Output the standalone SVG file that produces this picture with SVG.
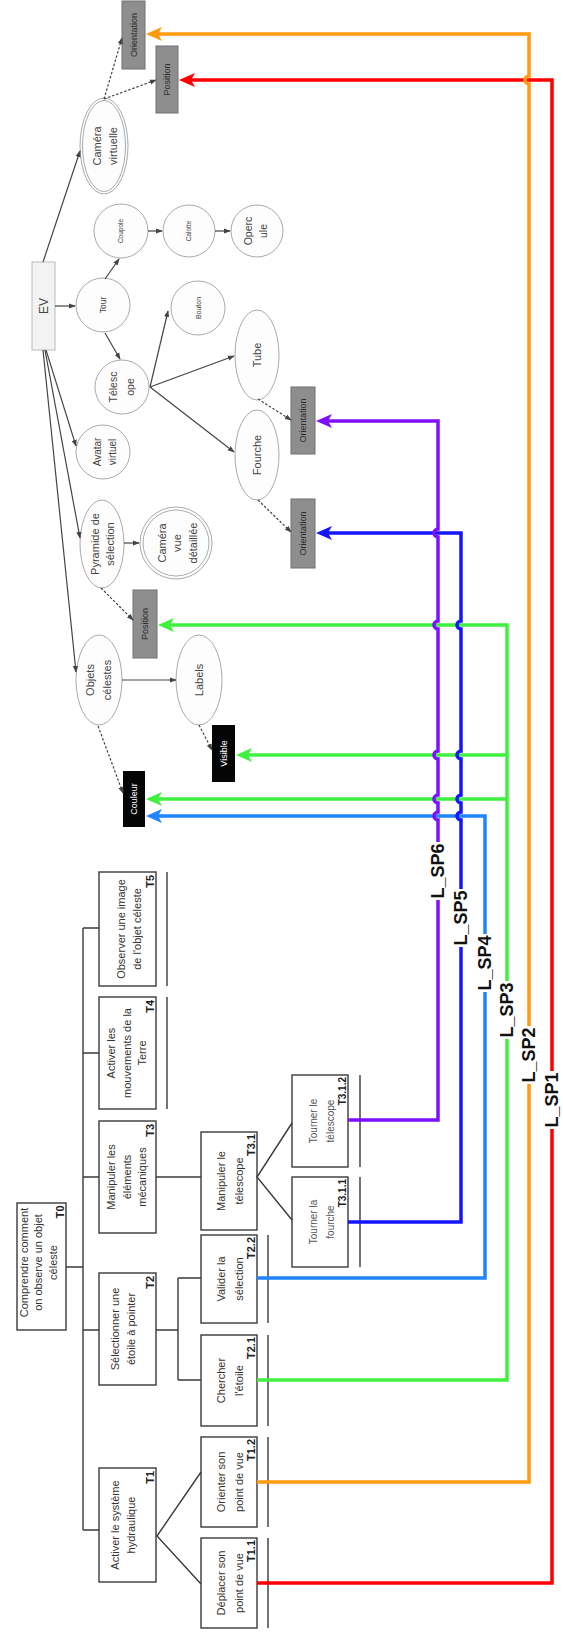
<svg xmlns="http://www.w3.org/2000/svg" width="563" height="1639" viewBox="0 0 563 1639">
<style>
.task{fill:#fff;stroke:#3a3a3a;stroke-width:1.4}
.ul{stroke:#3a3a3a;stroke-width:1.4}
.tt{font-family:"Liberation Sans",Arial,sans-serif;font-size:11px;fill:#333;text-anchor:middle}
.t3{font-size:10px;fill:#555}
.tid{font-family:"Liberation Sans",Arial,sans-serif;font-weight:bold;font-size:11px;fill:#222;text-anchor:end}
.ev{fill:#fdfdfd;stroke:#aaa;stroke-width:1}
.evb{fill:#f3f3f3;stroke:#bbb;stroke-width:1}
.evt{font-family:"Liberation Sans",Arial,sans-serif;font-size:11px;fill:#444;text-anchor:middle}
.gbox{fill:#8e8e8e;stroke:#707070;stroke-width:1}
.gt{font-family:"Liberation Sans",Arial,sans-serif;font-size:9px;fill:#2a2a2a;text-anchor:middle}
.bbox{fill:#050505}
.bt{font-family:"Liberation Sans",Arial,sans-serif;font-size:9px;fill:#fff;text-anchor:middle}
.tree{stroke:#3a3a3a;stroke-width:1.4;fill:none}
.arr{stroke:#444;stroke-width:1.2;fill:none;marker-end:url(#ah)}
.dash{stroke-dasharray:2.5 1.8}
.sp{fill:none;stroke-width:3.5;stroke-linejoin:miter}
.lbl{font-family:"Liberation Sans",Arial,sans-serif;font-weight:bold;font-size:18px;fill:#111;text-anchor:middle}
</style>
<defs>
<marker id="ah" viewBox="0 0 8 6" refX="7" refY="3" markerWidth="7" markerHeight="6" orient="auto" markerUnits="userSpaceOnUse"><path d="M0,0 L8,3 L0,6 z" fill="#444"/></marker>
<marker id="aRed" viewBox="0 0 16 14" refX="4" refY="7" markerWidth="16" markerHeight="14" orient="auto" markerUnits="userSpaceOnUse"><path d="M0,0 L16,7 L0,14 L4,7 z" fill="#ff0000"/></marker>
<marker id="aOra" viewBox="0 0 16 14" refX="4" refY="7" markerWidth="16" markerHeight="14" orient="auto" markerUnits="userSpaceOnUse"><path d="M0,0 L16,7 L0,14 L4,7 z" fill="#ff9a0a"/></marker>
<marker id="aGre" viewBox="0 0 16 14" refX="4" refY="7" markerWidth="16" markerHeight="14" orient="auto" markerUnits="userSpaceOnUse"><path d="M0,0 L16,7 L0,14 L4,7 z" fill="#3ff03f"/></marker>
<marker id="aLbl" viewBox="0 0 16 14" refX="4" refY="7" markerWidth="16" markerHeight="14" orient="auto" markerUnits="userSpaceOnUse"><path d="M0,0 L16,7 L0,14 L4,7 z" fill="#1f85ff"/></marker>
<marker id="aBlu" viewBox="0 0 16 14" refX="4" refY="7" markerWidth="16" markerHeight="14" orient="auto" markerUnits="userSpaceOnUse"><path d="M0,0 L16,7 L0,14 L4,7 z" fill="#1414ff"/></marker>
<marker id="aPur" viewBox="0 0 16 14" refX="4" refY="7" markerWidth="16" markerHeight="14" orient="auto" markerUnits="userSpaceOnUse"><path d="M0,0 L16,7 L0,14 L4,7 z" fill="#7f10ff"/></marker>
</defs>
<rect x="0" y="0" width="563" height="1639" fill="#fff"/>

<!-- ===== EV graph nodes ===== -->
<g id="EV"><rect class="evb" x="32" y="262" width="23" height="88"/><g transform="translate(43.5,306) rotate(-90)"><text class="evt" style="font-size:12px" x="0" y="4.2">EV</text></g></g>
<g id="camera-virtuelle"><ellipse class="ev" cx="104" cy="146" rx="24" ry="48"/><ellipse class="ev" cx="104" cy="146" rx="21.5" ry="45.5"/><g transform="translate(104,146) rotate(-90)"><text class="evt"><tspan x="0" y="-3">Caméra</tspan><tspan x="0" y="13">virtuelle</tspan></text></g></g>
<g id="tour"><circle class="ev" cx="103" cy="305" r="27"/><g transform="translate(103,305) rotate(-90)"><text class="evt" style="font-size:8.5px" x="0" y="3">Tour</text></g></g>
<g id="coupole"><circle class="ev" cx="121" cy="231" r="27"/><g transform="translate(121,231) rotate(-90)"><text class="evt" style="font-size:6.5px" x="0" y="2.3">Coupole</text></g></g>
<g id="calotte"><circle class="ev" cx="189" cy="231" r="26"/><g transform="translate(189,231) rotate(-90)"><text class="evt" style="font-size:6.5px" x="0" y="2.3">Calotte</text></g></g>
<g id="opercule"><circle class="ev" cx="257" cy="231" r="26"/><g transform="translate(257,231) rotate(-90)"><text class="evt" style="font-size:10.5px"><tspan x="0" y="-5.3">Operc</tspan><tspan x="0" y="9.7">ule</tspan></text></g></g>
<g id="telescope"><circle class="ev" cx="122" cy="387" r="27"/><g transform="translate(122,387) rotate(-90)"><text class="evt" style="font-size:10.5px"><tspan x="0" y="-5.2">Télesc</tspan><tspan x="0" y="11.8">ope</tspan></text></g></g>
<g id="bouton"><circle class="ev" cx="198" cy="308" r="27"/><g transform="translate(198,308) rotate(-90)"><text class="evt" style="font-size:7px" x="0" y="2.5">Bouton</text></g></g>
<g id="tube"><ellipse class="ev" cx="257" cy="355" rx="22" ry="45"/><g transform="translate(257,355) rotate(-90)"><text class="evt" x="0" y="3.9">Tube</text></g></g>
<g id="fourche"><ellipse class="ev" cx="257" cy="455" rx="22" ry="45"/><g transform="translate(257,455) rotate(-90)"><text class="evt" x="0" y="3.9">Fourche</text></g></g>
<g id="avatar-virtuel"><circle class="ev" cx="103" cy="452" r="27"/><g transform="translate(103,452) rotate(-90)"><text class="evt" style="font-size:10px"><tspan x="0" y="-2.5">Avatar</tspan><tspan x="0" y="12.5">virtuel</tspan></text></g></g>
<g id="pyramide"><ellipse class="ev" cx="102" cy="544" rx="22" ry="44"/><g transform="translate(102,544) rotate(-90)"><text class="evt"><tspan x="0" y="-3.2">Pyramide de</tspan><tspan x="0" y="11.8">sélection</tspan></text></g></g>
<g id="camera-vue-detaillee"><circle class="ev" cx="176" cy="543" r="36"/><circle class="ev" cx="176" cy="543" r="33"/><g transform="translate(176,543) rotate(-90)"><text class="evt"><tspan x="0" y="-10.5">Caméra</tspan><tspan x="0" y="5">vue</tspan><tspan x="0" y="20.5">détaillée</tspan></text></g></g>
<g id="objets-celestes"><ellipse class="ev" cx="99" cy="680" rx="23" ry="45"/><g transform="translate(99,680) rotate(-90)"><text class="evt"><tspan x="0" y="-5">Objets</tspan><tspan x="0" y="12">célestes</tspan></text></g></g>
<g id="labels"><ellipse class="ev" cx="199" cy="680" rx="23" ry="45"/><g transform="translate(199,680) rotate(-90)"><text class="evt" x="0" y="3.9">Labels</text></g></g>

<g id="orientation-camera"><rect class="gbox" x="122" y="1" width="23" height="68"/><g transform="translate(133.5,35) rotate(-90)"><text class="gt" x="0" y="3.2">Orientation</text></g></g>
<g id="position-camera"><rect class="gbox" x="156" y="46" width="22" height="67"/><g transform="translate(167,79.5) rotate(-90)"><text class="gt" x="0" y="3.2">Position</text></g></g>
<g id="orientation-tube"><rect class="gbox" x="291" y="387" width="24" height="67"/><g transform="translate(303,420.5) rotate(-90)"><text class="gt" x="0" y="3.2">Orientation</text></g></g>
<g id="orientation-fourche"><rect class="gbox" x="291" y="499" width="24" height="69"/><g transform="translate(303,533.5) rotate(-90)"><text class="gt" x="0" y="3.2">Orientation</text></g></g>
<g id="position-pyramide"><rect class="gbox" x="133" y="590" width="24" height="68"/><g transform="translate(145,624) rotate(-90)"><text class="gt" x="0" y="3.2">Position</text></g></g>
<g id="visible"><rect class="bbox" x="212" y="725" width="23" height="57"/><g transform="translate(223.5,753.5) rotate(-90)"><text class="bt" x="0" y="3.2">Visible</text></g></g>
<g id="couleur"><rect class="bbox" x="123" y="771" width="22" height="56"/><g transform="translate(134,799) rotate(-90)"><text class="bt" x="0" y="3.2">Couleur</text></g></g>

<!-- ===== Task tree nodes ===== -->
<g id="T0"><rect class="task" x="17" y="1203" width="49" height="127"/><g transform="translate(41.5,1266.5) rotate(-90)"><text class="tt"><tspan x="4" y="-14">Comprendre comment</tspan><tspan x="4" y="0.5">on observe un objet</tspan><tspan x="4" y="15">céleste</tspan></text><text class="tid" x="61" y="22">T0</text></g></g>
<g id="T1"><rect class="task" x="99" y="1468" width="57" height="114"/><g transform="translate(127.5,1525) rotate(-90)"><text class="tt"><tspan x="0" y="-8.7">Activer le système</tspan><tspan x="0" y="7.3">hydraulique</tspan></text><text class="tid" x="54" y="26">T1</text></g></g>
<g id="T2"><rect class="task" x="99" y="1273" width="57" height="112"/><g transform="translate(127.5,1329) rotate(-90)"><text class="tt"><tspan x="0" y="-8.7">Sélectionner une</tspan><tspan x="0" y="7.3">étoile à pointer</tspan></text><text class="tid" x="53" y="26">T2</text></g></g>
<g id="T3"><rect class="task" x="99" y="1121" width="57" height="112"/><g transform="translate(127.5,1177) rotate(-90)"><text class="tt"><tspan x="0" y="-12.2">Manipuler les</tspan><tspan x="0" y="3.8">éléments</tspan><tspan x="0" y="18.8">mécaniques</tspan></text><text class="tid" x="53" y="26">T3</text></g></g>
<g id="T4"><rect class="task" x="99" y="997" width="57" height="112"/><g transform="translate(127.5,1053) rotate(-90)"><text class="tt"><tspan x="0" y="-12.2">Activer les</tspan><tspan x="0" y="3.8">mouvements de la</tspan><tspan x="0" y="18.8">Terre</tspan></text><text class="tid" x="53" y="26">T4</text></g><line class="ul" x1="167" y1="997" x2="167" y2="1109"/></g>
<g id="T5"><rect class="task" x="99" y="872" width="57" height="114"/><g transform="translate(127.5,929) rotate(-90)"><text class="tt"><tspan x="0" y="-2.7">Observer une image</tspan><tspan x="0" y="13.3">de l'objet céleste</tspan></text><text class="tid" x="54" y="26">T5</text></g><line class="ul" x1="167" y1="872" x2="167" y2="986"/></g>
<g id="T1.1"><rect class="task" x="201" y="1538" width="56" height="90"/><g transform="translate(229,1583) rotate(-90)"><text class="tt"><tspan x="0" y="-4.2">Déplacer son</tspan><tspan x="0" y="13.8">point de vue</tspan></text><text class="tid" x="43" y="26">T1.1</text></g><line class="ul" x1="268" y1="1538" x2="268" y2="1628"/></g>
<g id="T1.2"><rect class="task" x="201" y="1437" width="56" height="90"/><g transform="translate(229,1482) rotate(-90)"><text class="tt"><tspan x="0" y="-4.2">Orienter son</tspan><tspan x="0" y="13.8">point de vue</tspan></text><text class="tid" x="43" y="26">T1.2</text></g><line class="ul" x1="268" y1="1437" x2="268" y2="1527"/></g>
<g id="T2.1"><rect class="task" x="201" y="1335" width="56" height="91"/><g transform="translate(229,1380.5) rotate(-90)"><text class="tt"><tspan x="0" y="-4.2">Chercher</tspan><tspan x="0" y="13.8">l'étoile</tspan></text><text class="tid" x="43.5" y="26">T2.1</text></g><line class="ul" x1="268" y1="1335" x2="268" y2="1426"/></g>
<g id="T2.2"><rect class="task" x="201" y="1235" width="56" height="88"/><g transform="translate(229,1279) rotate(-90)"><text class="tt"><tspan x="0" y="-4.2">Valider la</tspan><tspan x="0" y="13.8">sélection</tspan></text><text class="tid" x="42" y="26">T2.2</text></g><line class="ul" x1="268" y1="1235" x2="268" y2="1323"/></g>
<g id="T3.1"><rect class="task" x="201" y="1132" width="56" height="98"/><g transform="translate(229,1181) rotate(-90)"><text class="tt"><tspan x="0" y="-4.2">Manipuler le</tspan><tspan x="0" y="13.8">télescope</tspan></text><text class="tid" x="47" y="26">T3.1</text></g></g>
<g id="T3.1.1"><rect class="task" x="292" y="1177" width="56" height="90"/><g transform="translate(320,1222) rotate(-90)"><text class="tt t3"><tspan x="0" y="-3.5">Tourner la</tspan><tspan x="0" y="13.5">fourche</tspan></text><text class="tid" style="font-size:10px" x="43" y="26">T3.1.1</text></g><line class="ul" x1="360" y1="1177" x2="360" y2="1267"/></g>
<g id="T3.1.2"><rect class="task" x="292" y="1075" width="56" height="92"/><g transform="translate(320,1121) rotate(-90)"><text class="tt t3"><tspan x="0" y="-3.5">Tourner le</tspan><tspan x="0" y="13.5">télescope</tspan></text><text class="tid" style="font-size:10px" x="44" y="26">T3.1.2</text></g><line class="ul" x1="360" y1="1075" x2="360" y2="1167"/></g>

<!-- ===== Connectors ===== -->
<g id="connectors">
  <!-- task hierarchy -->
  <path class="tree" d="M66,1267 H83 M83,928 V1530 M83,928 H99 M83,1053 H99 M83,1177 H99 M83,1330 H99 M83,1530 H99"/>
  <path class="tree" d="M156,1177 H201 M156,1330 H178 M178,1278 V1380 M178,1278 H201 M178,1380 H201"/>
  <path class="tree" d="M201,1472 L157,1536 L201,1584"/>
  <path class="tree" d="M292,1123 L257,1177 L292,1220"/>
  <!-- EV graph -->
  <path class="arr" d="M55,306 L75,306"/>
  <path class="arr" d="M43,262 L80,151"/>
  <path class="arr" d="M46,350 L76,446"/>
  <path class="arr" d="M45,350 L80,538"/>
  <path class="arr" d="M43,350 L76,672"/>
  <path class="arr" d="M105,279 L119,259"/>
  <path class="arr" d="M105,333 L120,359"/>
  <path class="arr" d="M148,231 L162,231"/>
  <path class="arr" d="M215,231 L230,231"/>
  <path class="arr" d="M150,387 L168,311"/>
  <path class="arr" d="M150,387 L234,356"/>
  <path class="arr" d="M150,387 L234,452"/>
  <path class="arr" d="M124,543 L139,543"/>
  <path class="arr" d="M122,680 L176,680"/>
  <path class="arr dash" d="M104,99 L122,38"/>
  <path class="arr dash" d="M104,99 L156,80"/>
  <path class="arr dash" d="M258,399 L291,420"/>
  <path class="arr dash" d="M258,500 L291,532"/>
  <path class="arr dash" d="M101,588 L133,620"/>
  <path class="arr dash" d="M199,725 L212,750"/>
  <path class="arr dash" d="M98,726 L123,793"/>
  <!-- scenario links -->
  <path class="sp" stroke="#ff0000" marker-end="url(#aRed)" d="M257,1583 H552 V80 H191"/>
  <path class="sp" stroke="#ff9a0a" marker-end="url(#aOra)" d="M257,1482 H529 V84 A4,4 0 0 1 529,76 V34 H158"/>
  <path class="sp" stroke="#3ff03f" marker-end="url(#aGre)" d="M257,1380 H507 V625 H170"/>
  <path class="sp" stroke="#3ff03f" marker-end="url(#aGre)" d="M507,755 H248"/>
  <path class="sp" stroke="#3ff03f" marker-end="url(#aGre)" d="M507,799 H158"/>
  <path class="sp" stroke="#1f85ff" marker-end="url(#aLbl)" d="M257,1278 H485 V816 H158"/>
  <path class="sp" stroke="#1414ff" marker-end="url(#aBlu)" d="M348,1222 H461 V820 A4,4 0 0 1 461,812 V803 A4,4 0 0 1 461,795 V759 A4,4 0 0 1 461,751 V629 A4,4 0 0 1 461,621 V533 H328"/>
  <path class="sp" stroke="#7f10ff" marker-end="url(#aPur)" d="M348,1120 H438 V820 A4,4 0 0 1 438,812 V803 A4,4 0 0 1 438,795 V759 A4,4 0 0 1 438,751 V629 A4,4 0 0 1 438,621 V537 A4,4 0 0 1 438,529 V421 H328"/>
  <!-- link labels -->
  <g id="label-L_SP6"><rect x="429" y="842" width="18" height="58" fill="#fff"/><text class="lbl" transform="translate(438,871) rotate(-90)" x="0" y="6">L_SP6</text></g>
  <g id="label-L_SP5"><rect x="452" y="889" width="18" height="58" fill="#fff"/><text class="lbl" transform="translate(461,918) rotate(-90)" x="0" y="6">L_SP5</text></g>
  <g id="label-L_SP4"><rect x="476" y="934" width="18" height="58" fill="#fff"/><text class="lbl" transform="translate(485,963) rotate(-90)" x="0" y="6">L_SP4</text></g>
  <g id="label-L_SP3"><rect x="498" y="981" width="18" height="58" fill="#fff"/><text class="lbl" transform="translate(507,1010) rotate(-90)" x="0" y="6">L_SP3</text></g>
  <g id="label-L_SP2"><rect x="520" y="1026" width="18" height="58" fill="#fff"/><text class="lbl" transform="translate(529,1055) rotate(-90)" x="0" y="6">L_SP2</text></g>
  <g id="label-L_SP1"><rect x="543" y="1071" width="18" height="58" fill="#fff"/><text class="lbl" transform="translate(552,1100) rotate(-90)" x="0" y="6">L_SP1</text></g>
</g>
</svg>
